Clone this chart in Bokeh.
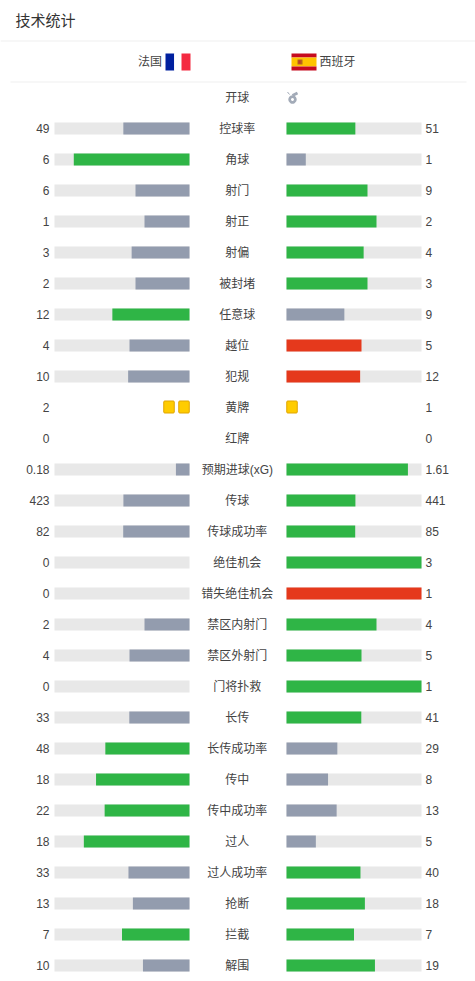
from bokeh.plotting import figure
from bokeh.models import Range1d, ColumnDataSource
from bokeh.core.properties import value
from bokeh.embed import file_html
from bokeh.resources import INLINE

title = "技术统计"
team_left = "法国"
team_right = "西班牙"
kickoff_label = "开球"

stats = ["控球率", "角球", "射门", "射正", "射偏", "被封堵", "任意球", "越位", "犯规", "黄牌", "红牌",
         "预期进球(xG)", "传球", "传球成功率", "绝佳机会", "错失绝佳机会", "禁区内射门", "禁区外射门",
         "门将扑救", "长传", "长传成功率", "传中", "传中成功率", "过人", "过人成功率", "抢断", "拦截", "解围"]
left_text = ["49", "6", "6", "1", "3", "2", "12", "4", "10", "2", "0", "0.18", "423", "82", "0", "0", "2", "4",
             "0", "33", "48", "18", "22", "18", "33", "13", "7", "10"]
right_text = ["51", "1", "9", "2", "4", "3", "9", "5", "12", "1", "0", "1.61", "441", "85", "3", "1", "4", "5",
              "1", "41", "29", "8", "13", "5", "40", "18", "7", "19"]
card_stats = ["黄牌", "红牌"]
bad_stats = ["越位", "犯规", "错失绝佳机会"]

GREEN, GRAY, RED = "#2fb546", "#939cae", "#e5391c"
TRACK, TEXT, LINE = "#e8e8e8", "#444444", "#efefef"
CN = value("Liberation Sans, Noto Sans CJK SC")
W, H = 475, 981
PX_L, PX_R, PX_T, PX_B = 0, W, 0, H
BAR_PX = 135
L0, R0 = 189, 286
ROW0, STEP = 97, 31

p = figure(width=W, height=H, output_backend="svg", toolbar_location=None, min_border=0,
           x_range=Range1d(PX_L, PX_R), y_range=Range1d(PX_B, PX_T),
           outline_line_color=None, background_fill_color="white", border_fill_color="white")
p.xaxis.visible = False
p.yaxis.visible = False
p.grid.visible = False
p.extra_x_ranges = {
    "left": Range1d((L0 - PX_L) / BAR_PX, (L0 - PX_R) / BAR_PX),
    "right": Range1d((PX_L - R0) / BAR_PX, (PX_R - R0) / BAR_PX),
}
p.extra_y_ranges = {"row": Range1d((PX_B - ROW0) / STEP, (PX_T - ROW0) / STEP)}

rows = list(range(1, len(stats) + 1))
bar_rows, left_share, right_share, left_col, right_col = [], [], [], [], []
for i, s in enumerate(stats):
    if s in card_stats:
        continue
    a, b = float(left_text[i]), float(right_text[i])
    bar_rows.append(rows[i])
    left_share.append(a / (a + b))
    right_share.append(b / (a + b))
    left_col.append(GREEN if a >= b else GRAY)
    right_col.append(GRAY if b < a else (RED if s in bad_stats else GREEN))

src = ColumnDataSource(dict(y=bar_rows, ls=left_share, rs=right_share, lc=left_col, rc=right_col,
                            one=[1] * len(bar_rows), zero=[0] * len(bar_rows)))
bar_h = 12 / STEP
p.hbar(y="y", left="zero", right="one", height=bar_h, source=src, x_range_name="left", y_range_name="row",
       fill_color=TRACK, line_color=None)
p.hbar(y="y", left="zero", right="one", height=bar_h, source=src, x_range_name="right", y_range_name="row",
       fill_color=TRACK, line_color=None)
p.hbar(y="y", left="zero", right="ls", height=bar_h, source=src, x_range_name="left", y_range_name="row",
       fill_color="lc", line_color=None)
p.hbar(y="y", left="zero", right="rs", height=bar_h, source=src, x_range_name="right", y_range_name="row",
       fill_color="rc", line_color=None)

# separators
p.line([PX_L, PX_R], [40.5, 40.5], line_color=LINE, line_width=1)
p.line([10, 466], [81.5, 81.5], line_color=LINE, line_width=1)

# title and header
p.text([15], [20], text=[title], text_font=CN, text_font_size="15px", text_color="#333333",
       text_align="left", text_baseline="middle")
p.text([161.5], [61], text=[team_left], text_font=CN, text_font_size="12px", text_color=TEXT,
       text_align="right", text_baseline="middle")
p.text([319], [61], text=[team_right], text_font=CN, text_font_size="12px", text_color=TEXT,
       text_align="left", text_baseline="middle")

# France flag
p.quad(left=[165, 173.7, 181], right=[173.7, 181, 190], top=[53] * 3, bottom=[70] * 3,
       fill_color=["#00209f", "#ffffff", "#f42a41"], line_color=None)
# Spain flag
p.quad(left=[291] * 3, right=[316] * 3, top=[53, 57, 66], bottom=[57, 66, 70],
       fill_color=["#c60b1e", "#ffc400", "#c60b1e"], line_color=None)
p.quad(left=[297], right=[302], top=[59], bottom=[64], fill_color="#b5651d", line_color=None)
p.quad(left=[298], right=[300], top=[60], bottom=[63], fill_color="#c0392b", line_color=None)

# kickoff row
p.text([236.8], [ROW0], text=[kickoff_label], text_font=CN, text_font_size="12px", text_color=TEXT,
       text_align="center", text_baseline="middle")
p.annular_wedge([292], [99], inner_radius=1.5, outer_radius=4.2, start_angle=0, end_angle=6.283,
                fill_color="#a3abb8", line_color=None)
p.line([292, 297], [95, 92.5], line_color="#a3abb8", line_width=3)
p.line([287, 289], [91.5, 94], line_color="#a3abb8", line_width=1)

# row texts
p.text([236.8] * len(stats), rows, text=stats, y_range_name="row", text_font=CN, text_font_size="12px",
       text_color=TEXT, text_align="center", text_baseline="middle")
p.text([49] * len(stats), rows, text=left_text, y_range_name="row", text_font=CN, text_font_size="12px",
       text_color=TEXT, text_align="right", text_baseline="middle")
p.text([425] * len(stats), rows, text=right_text, y_range_name="row", text_font=CN, text_font_size="12px",
       text_color=TEXT, text_align="left", text_baseline="middle")

# cards
CARD_W, CARD_PITCH = 10.5, 15
for i, s in enumerate(stats):
    if s != "黄牌":
        continue
    nl, nr = int(left_text[i]), int(right_text[i])
    lefts = [L0 - CARD_W - 0.25 - k * CARD_PITCH for k in range(nl)] + [R0 + 0.25 + k * CARD_PITCH for k in range(nr)]
    p.hbar(y=[rows[i] - 0.5 / STEP] * len(lefts), left=lefts, right=[x + CARD_W for x in lefts], height=12 / STEP,
           y_range_name="row", fill_color="#ffcc00", line_color="#e0a500", line_width=1, border_radius=1)

html = file_html(p, INLINE)
open("out.html", "w").write(html)
